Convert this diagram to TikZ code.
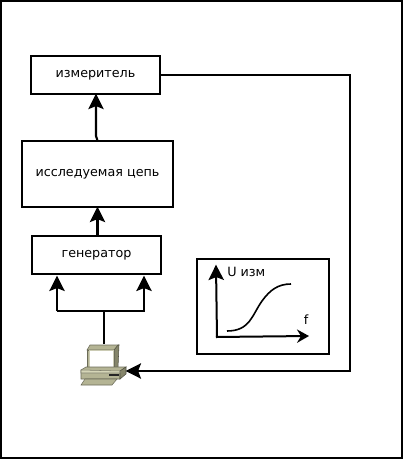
\documentclass[tikz,border=0pt]{standalone}
\usepackage{fontspec}
\setmainfont{DejaVu Sans}
\usetikzlibrary{arrows.meta}
\tikzset{
  block/.style={draw=black,line width=1.6pt,fill=white,inner sep=0pt,font=\fontsize{9.55}{11}\selectfont},
  conn/.style={draw=black,line width=1.6pt,shorten >=-1pt,-{Stealth[length=11.5pt,width=11.5pt,inset=2.2pt]}},
  trunk/.style={draw=black,line width=1.6pt},
  thin curve/.style={draw=black,line width=1.2pt},
  caseface/.style={draw=#1!60!black,line width=0.4pt,fill=#1},
  label/.style={inner sep=0pt,font=\fontsize{9.55}{11}\selectfont}
}
\definecolor{pclight}{HTML}{D6D6B8}
\definecolor{pcmid}{HTML}{B4B494}
\definecolor{pcdark}{HTML}{85856A}
\begin{document}
\begin{tikzpicture}[x=0.75pt,y=-0.75pt]
\useasboundingbox (0,0) rectangle (403,459);
\fill[white] (0,0) rectangle (403,459);
\draw[black,line width=1.5pt] (1,1) rectangle (402,458);
% blocks
\node[block,minimum width=96.75pt,minimum height=28.5pt] (izm) at (95.5,75) {измеритель};
\node[block,minimum width=113.25pt,minimum height=49.5pt] (cep) at (97.5,174) {исследуемая цепь};
\node[block,minimum width=96.75pt,minimum height=28.5pt] (gen) at (96.5,255) {генератор};
\node[draw=black,line width=1.6pt,minimum width=99pt,minimum height=71.25pt,inner sep=0pt] (plot) at (263,306.5) {};
% computer icon
\path[caseface=pcmid] (87,350)--(90,345)--(119,345)--(116,350)--cycle;
\path[caseface=pcdark] (114,350)--(118,345)--(119,345)--(118,368)--(114,372)--cycle;
\path[caseface=pcmid] (87,350)--(114,350)--(114,370)--(87,370)--cycle;
\path[fill=white,draw=pcmid!70,line width=0.6pt] (89.5,350.5)--(113,350.5)--(113,367)--(89.5,367)--cycle;
\path[caseface=pcmid] (81,370)--(86,367)--(126,367)--(120,371)--(120,379)--(81,379)--cycle;
\path[caseface=pcdark] (120,371)--(126,367)--(126,374)--(120,379)--cycle;
\path[caseface=pclight] (81,370)--(120,371)--(120,373)--(81,373)--cycle;
\path[caseface=pcmid] (85,379)--(117,379)--(112,385)--(81,385)--cycle;
\fill[black!85] (109,374)--(119,374)--(119,376)--(109,376)--cycle;
\node[inner sep=0pt,minimum size=0pt] (pc) at (104,344) {};
\node[inner sep=0pt,minimum size=0pt] (pcin) at (127,371) {};
% connectors
\coordinate (split) at (104,311);
\coordinate (genl) at (57,277);
\coordinate (genr) at (144,277);
\coordinate (fbA) at (350,75);
\coordinate (fbB) at (350,371);
\coordinate (jogA) at (97,139);
\coordinate (jogB) at (96,136);
\draw[trunk] (pc.center) -- (split);
\draw[conn] (57,311) -- (genl);
\draw[conn] (144,311) -- (genr);
\draw[trunk] (56.5,311) -- (144.5,311);
\draw[conn] (cep.south |- gen.north) -- (cep.south);
\draw[conn] (cep.north) -- (jogA) -- (jogB) -- (izm.south -| jogB);
\draw[conn] (izm.east) -- (fbA) -- (fbB) -- (pcin.center);
% plot contents
\coordinate (ytip) at (216,266);
\coordinate (xtip) at (309,336);
\draw[conn,line width=1.5pt] (217,338) -- (ytip);
\draw[draw=black,line width=1.5pt,-{Stealth[length=9pt,width=10pt,inset=3pt]}] (216,337) -- (xtip);
\draw[thin curve] (227,331) .. controls (250,331) and (252,315) .. (262,301) .. controls (270,290) and (278,284) .. (291,284);
\node[label,anchor=west] (ulab) at (227,272) {U изм};
\node[label] (flab) at (306,320) {f};
\end{tikzpicture}
\end{document}
